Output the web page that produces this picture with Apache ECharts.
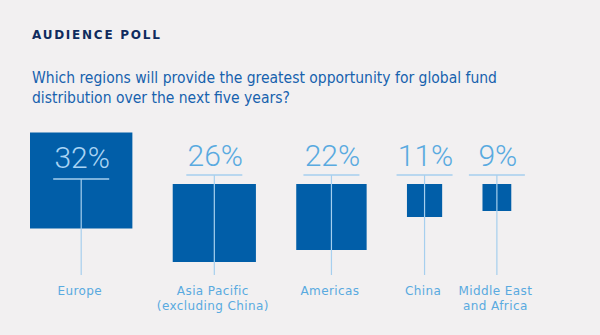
<!DOCTYPE html>
<html><head><meta charset="utf-8">
<script src="https://cdn.jsdelivr.net/npm/echarts@6/dist/echarts.min.js"></script>
<style>html,body{margin:0;padding:0;background:#f2f0f1}#c{width:600px;height:335px}
#c svg text[style*="12px"]{letter-spacing:0.4px}
#c svg text[style*="bold"]{letter-spacing:1.75px}</style>
</head><body><div id="c"></div>
<script>
// ---- data ----
const categories = ['Europe', 'Asia Pacific\n(excluding China)', 'Americas', 'China', 'Middle East\nand Africa'];
const shares = [32, 26, 22, 11, 9];
const valueLabels = ['32%', '26%', '22%', '11%', '9%'];
const titleText = 'AUDIENCE POLL';
const questionText = 'Which regions will provide the greatest opportunity for global fund\ndistribution over the next five years?';

// ---- layout: squares packed side by side (in axis units) with a constant gap ----
const GAP = 12.6;
function packedCenters(vals, gap) {
  const out = [];
  let pos = vals[0] / 2;
  vals.forEach((v, i) => {
    if (i > 0) pos += vals[i - 1] / 2 + gap + v / 2;
    out.push(pos);
  });
  return out;
}
const centers = packedCenters(shares, GAP);
const seriesData = shares.map((v, i) => [centers[i], v, i]);

const DARK = '#015ea8';
const LIGHT_TXT = '#59aae0';
const LINE = '#a6cfee';

function renderItem(params, api) {
  const i = api.value(2);
  const v = api.value(1);
  const cx = api.coord([api.value(0), 0])[0];
  const sz = api.size([v, v]);
  const w = sz[0], h = sz[1];
  const lineY = 175;
  const squareTop = 184;
  const big = h > 86;
  const top = big ? lineY + 5.5 - h / 2 : squareTop;
  const uY = big ? lineY + 4 : lineY;
  const labelY = big ? 157 : 155;
  return {
    type: 'group',
    children: [
      { type: 'rect', shape: { x: cx - w / 2, y: top, width: w, height: h },
        style: { fill: DARK } },
      { type: 'line', shape: { x1: cx, y1: uY, x2: cx, y2: 275 },
        style: { stroke: LINE, lineWidth: 1.2 } },
      { type: 'line', shape: { x1: cx - 28, y1: uY, x2: cx + 28, y2: uY },
        style: { stroke: LINE, lineWidth: 1.4 } },
      { type: 'text', x: cx + 1, y: labelY,
        style: { text: valueLabels[i], fill: big ? '#a9d4f4' : LIGHT_TXT,
          font: '300 30px Roboto', align: 'center', verticalAlign: 'middle' } },
      { type: 'text', x: cx - 1.5, y: 283,
        style: { text: categories[i], fill: LIGHT_TXT,
          font: '12px "DejaVu Sans"', align: 'center', verticalAlign: 'top', lineHeight: 15 } }
    ]
  };
}

const chart = echarts.init(document.getElementById('c'), null, { renderer: 'svg' });
chart.setOption({
  backgroundColor: '#f2f0f1',
  animation: false,
  title: [
    { text: titleText, left: 32, top: 29, padding: 0,
      textStyle: { color: '#0f2b5e', fontSize: 12, fontWeight: 'bold', fontFamily: 'DejaVu Sans' } },
    { text: questionText, left: 32, top: 68, padding: 0,
      textStyle: { color: '#1762ae', fontSize: 15.5, fontWeight: 'normal', fontFamily: 'DejaVu Sans Condensed', lineHeight: 20 } }
  ],
  grid: { left: 30, right: 0, top: 0, bottom: 35 },
  xAxis: { type: 'value', min: 0, max: 178.125, show: false },
  yAxis: { type: 'value', min: 0, max: 100, show: false },
  series: [{
    type: 'custom',
    renderItem: renderItem,
    data: seriesData,
    encode: { x: 0, y: 1 },
    clip: false
  }]
});
</script></body></html>
